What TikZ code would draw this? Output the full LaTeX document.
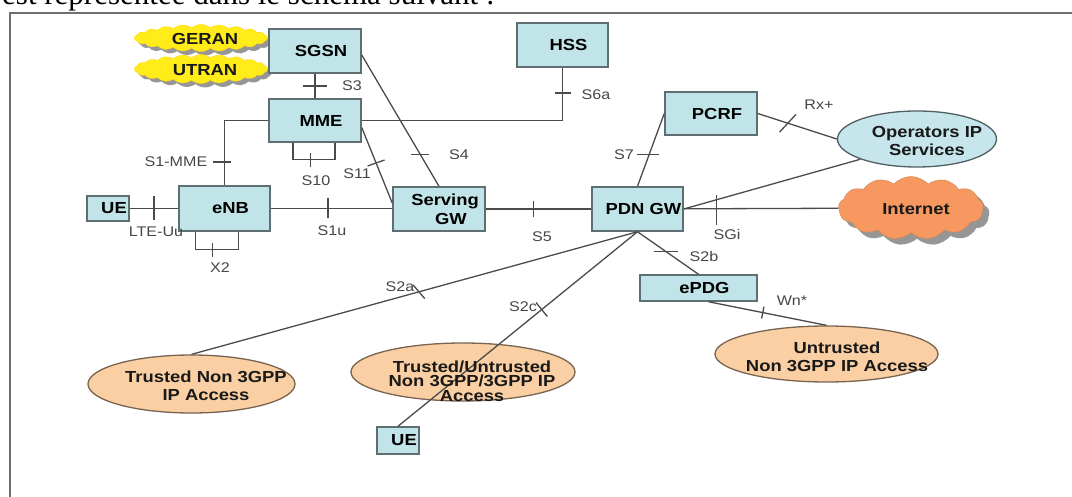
\documentclass[tikz,border=0pt]{standalone}
\usepackage{fontspec}
\setmainfont{Liberation Sans}[FakeStretch=1.15]
\newfontfamily\introfont{Liberation Serif}
\usetikzlibrary{shapes.geometric,shapes.symbols,calc}

\definecolor{framec}{RGB}{110,110,110}
\definecolor{linec}{RGB}{75,75,75}
\definecolor{lblc}{RGB}{70,70,70}
\definecolor{boxline}{RGB}{95,110,112}
\definecolor{boxfill}{RGB}{192,228,232}
\definecolor{opsfill}{RGB}{198,230,236}
\definecolor{opsline}{RGB}{80,95,100}
\definecolor{peach}{RGB}{250,207,163}
\definecolor{peachline}{RGB}{120,100,80}
\definecolor{inetfill}{RGB}{246,152,96}
\definecolor{yellowc}{RGB}{255,236,25}
\definecolor{shadowc}{RGB}{150,150,150}
\definecolor{inkc}{RGB}{25,25,25}

\begin{document}
\begin{tikzpicture}[x=1pt,y=-1pt,
  nebox/.style={draw=boxline, line width=1.5pt, fill=boxfill, inner sep=0pt,
    font=\bfseries\fontsize{16}{19}\selectfont, execute at begin node=\hspace*{12pt}},
  oval/.style={ellipse, draw=peachline, line width=1.3pt, fill=peach, inner sep=0pt},
  ovaltext/.style={font=\bfseries\fontsize{16}{18}\selectfont, align=center, inner sep=0pt, text=inkc},
  puff/.style={cloud, cloud ignores aspect, inner sep=0pt},
  ranpuff/.style={puff, cloud puffs=22, cloud puff arc=80, minimum width=133pt},
  netpuff/.style={puff, cloud puffs=13, cloud puff arc=95, minimum width=145pt, minimum height=63pt},
  link/.style={draw=linec, line width=1.3pt},
  tk/.style={draw=linec, line width=1.3pt},
  lbl/.style={font=\fontsize{14}{16}\selectfont, text=lblc, inner sep=0pt},
]
\useasboundingbox (0,0) rectangle (1072,497);
\clip (0,0) rectangle (1072,497);

% lead-in sentence above the frame
\node[anchor=base west, inner sep=0pt, font=\introfont\fontsize{31}{31}\selectfont] (intro) at (2,5)
  {est représentée dans le schéma suivant :};

% frame
\draw[draw=framec, line width=2.5pt] (10,497) -- (10,13) -- (1072,13);

% radio access clouds with their shadows
\node[ranpuff, fill=shadowc, minimum height=27pt] (geranS) at (205,42) {};
\node[ranpuff, fill=yellowc, draw=yellowc!80!orange, minimum height=27pt] (geran) at (201,38) {};
\node[ranpuff, fill=shadowc, minimum height=29pt] (utranS) at (205,73) {};
\node[ranpuff, fill=yellowc, draw=yellowc!80!orange, minimum height=29pt] (utran) at (201,69) {};
% internet cloud with its shadow
\node[netpuff, fill=shadowc] (inetS) at (917,214) {};
\node[netpuff, fill=inetfill, draw=inetfill!85!black] (inet) at (911,208) {};
% cloud captions
\node[ovaltext] (geranT) at (205,39) {GERAN};
\node[ovaltext] (utranT) at (205,70) {UTRAN};
\node[ovaltext] (inetT) at (916,209) {Internet};

% core network elements
\node[nebox, minimum width=92pt, minimum height=44pt] (sgsn) at (315,51) {SGSN};
\node[nebox, minimum width=92pt, minimum height=43pt] (mme) at (315,120.5) {MME};
\node[nebox, minimum width=91pt, minimum height=44pt] (hss) at (562.5,45) {HSS};
\node[nebox, minimum width=92pt, minimum height=43pt] (pcrf) at (711,113.5) {PCRF};
\node[nebox, minimum width=91pt, minimum height=45pt] (enb) at (224.5,208.5) {eNB};
\node[nebox, minimum width=42pt, minimum height=25pt] (ue) at (108,208.5) {UE};
\node[nebox, minimum width=92pt, minimum height=44pt, align=center] (sgw) at (439,209) {Serving\\\hspace*{12pt}GW};
\node[nebox, minimum width=91pt, minimum height=44pt] (pdn) at (637.5,209) {PDN GW};
\node[nebox, minimum width=117pt, minimum height=26pt] (epdg) at (698.5,288) {ePDG};
\node[nebox, minimum width=42pt, minimum height=27pt] (ue2) at (398,440.5) {UE};

% access networks and services
\node[ellipse, draw=opsline, fill=opsfill, line width=1.3pt, inner sep=0pt, minimum width=159pt, minimum height=56pt] (ops) at (917,139) {};
\node[oval, minimum width=207pt, minimum height=58pt] (tn3) at (191.5,384) {};
\node[oval, minimum width=224pt, minimum height=58pt] (tmid) at (463,372) {};
\node[oval, minimum width=223pt, minimum height=56pt] (untr) at (826.5,354) {};

% reference points
\draw[link] (ue) -- coordinate[pos=.5] (kuu) (enb);
\draw[link] (enb) -- coordinate[pos=.47] (k1u) (sgw.west |- enb);
\draw[link] (sgw) -- coordinate[pos=.45] (k5) (pdn);
\draw[link] (pdn) -- coordinate[pos=.21] (kgi) (inet);
\draw[link] (pdn.east) -- (ops.south west);
\draw[link] (pcrf.east) -- coordinate[pos=.38] (krx) (ops.west);
\draw[link] (pcrf.west) -- coordinate[pos=.56] (k7) (pdn.north);
\draw[link] (mme.east) -| coordinate[pos=.76] (k6a) (hss.south);
\draw[link] ([yshift=-4pt]sgsn.east) -- coordinate[pos=.76] (k4) (sgw.north);
\draw[link] ([yshift=-7pt]mme.east) -- coordinate[pos=.47] (k11) ([yshift=6pt]sgw.west);
\draw[link] (sgsn) -- coordinate[pos=.5] (k3) (mme);
\draw[link] (mme.west) -| coordinate[pos=.82] (k1m) (enb.north);
\draw[link] ([xshift=-22pt]mme.south) |- coordinate[pos=.71] (k10) ([xshift=20pt,yshift=-17pt]mme.south) -- ([xshift=20pt]mme.south);
\draw[link] ([xshift=-29pt]enb.south) |- coordinate[pos=.7] (kx2) ([xshift=14pt,yshift=-18pt]enb.south) -- ([xshift=14pt]enb.south);
\draw[link] (pdn.south) -- coordinate[pos=.49] (k2a) (tn3.north);
\draw[link] (pdn.south) -- coordinate[pos=.40] (k2c) (ue2.north);
\draw[link] (pdn.south) -- coordinate[pos=.46] (k2b) (epdg.north);
\draw[link] ([xshift=10pt]epdg.south) -- coordinate[pos=.46] (kwn) (untr.north);

% interface tick marks
\draw[tk] ([xshift=-12pt]k3) -- ([xshift=12pt]k3);
\draw[tk] ([yshift=-7pt]k10) -- ([yshift=7pt]k10);
\draw[tk] ([xshift=-12pt]k1m) -- ([xshift=6pt]k1m);
\draw[tk] ([yshift=-12pt]kuu) -- ([yshift=12pt]kuu);
\draw[tk] ([yshift=-7pt]kx2) -- ([yshift=7pt]kx2);
\draw[tk] ([yshift=-10pt]k1u) -- ([yshift=10pt]k1u);
\draw[tk] ($(k11)!9pt!90:(sgw.west)$) -- ($(k11)!9pt!-90:(sgw.west)$);
\draw[tk] ([xshift=-9pt]k4) -- ([xshift=9pt]k4);
\draw[tk] ([xshift=-8pt]k6a) -- ([xshift=8pt]k6a);
\draw[tk] ([xshift=-12pt]k7) -- ([xshift=10pt]k7);
\draw[tk] ([yshift=-8pt]k5) -- ([yshift=8pt]k5);
\draw[tk] ([yshift=-16pt]kgi) -- ([yshift=14pt]kgi);
\draw[tk] ($(krx)!12pt!65:(ops.west)$) -- ($(krx)!12pt!-115:(ops.west)$);
\draw[tk] ([xshift=-12pt]k2b) -- ([xshift=12pt]k2b);
\draw[tk] ($(k2a)!9pt!-65:(tn3.north)$) -- ($(k2a)!9pt!115:(tn3.north)$);
\draw[tk] ($(k2c)!9pt!90:(ue2.north)$) -- ($(k2c)!9pt!-90:(ue2.north)$);
\draw[tk] ($(kwn)!6pt!90:(untr.north)$) -- ($(kwn)!6pt!-90:(untr.north)$);

% texts of the ellipses
\node[ovaltext] (opsT) at (927,141) {Operators IP\\Services};
\node[ovaltext] (tn3T) at (206,386) {Trusted Non 3GPP\\IP Access};
\node[ovaltext, font=\bfseries\fontsize{16}{14.5}\selectfont] (tmidT) at (472,381) {Trusted/Untrusted\\Non 3GPP/3GPP IP\\Access};
\node[ovaltext] (untrT) at (837,357) {Untrusted\\Non 3GPP IP Access};

% interface labels
\node[lbl] (l3) at (352,86) {S3};
\node[lbl] (l10) at (316,181) {S10};
\node[lbl] (l1m) at (176,162) {S1-MME};
\node[lbl] (luu) at (156,232) {LTE-Uu};
\node[lbl] (lx2) at (220,268) {X2};
\node[lbl] (l1u) at (332,231) {S1u};
\node[lbl] (l11) at (357,174) {S11};
\node[lbl] (l4) at (459,155) {S4};
\node[lbl] (l6a) at (596,95) {S6a};
\node[lbl] (l7) at (624,155) {S7};
\node[lbl] (l5) at (542,237) {S5};
\node[lbl] (lgi) at (727,234) {SGi};
\node[lbl] (lrx) at (819,105) {Rx+};
\node[lbl] (l2b) at (704,256) {S2b};
\node[lbl] (l2a) at (400,287) {S2a};
\node[lbl] (l2c) at (523,307) {S2c};
\node[lbl] (lwn) at (792,301) {Wn*};
\end{tikzpicture}
\end{document}
